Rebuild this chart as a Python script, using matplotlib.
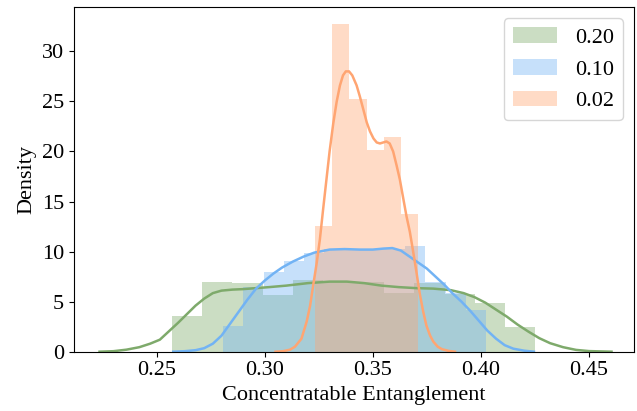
import numpy as np
import matplotlib
matplotlib.use('Agg')
import matplotlib.pyplot as plt

plt.rcParams['font.family'] = ['Liberation Serif', 'DejaVu Serif']
plt.rcParams['font.size'] = 16

labels = ['0.20', '0.10', '0.02']
colors = ['#7eaa6b', '#72b3f4', '#ffa572']

# histogram bins (range) and densities
green_range = (0.25703, 0.42522)
green_hist = [3.6, 7.0, 6.9, 5.7, 7.2, 7.0, 7.0, 5.9, 6.9, 5.8, 4.9, 2.5]
blue_range = (0.28074, 0.40245)
blue_hist = [2.6, 6.5, 8.0, 9.1, 9.9, 10.3, 10.3, 10.3, 10.3, 10.6, 7.0, 5.9, 4.2]
orange_range = (0.32342, 0.37076)
orange_hist = [12.6, 32.7, 25.2, 20.1, 21.4, 13.8]

# kde curves
green_kde_x = [0.2236, 0.2300, 0.2360, 0.2420, 0.2470, 0.2515, 0.2560, 0.2600, 0.2640, 0.2680,
               0.2720, 0.2760, 0.2800, 0.2850, 0.2900, 0.2960, 0.3020, 0.3100, 0.3200, 0.3300,
               0.3380, 0.3460, 0.3540, 0.3620, 0.3700, 0.3780, 0.3860, 0.3920, 0.3970, 0.4020,
               0.4070, 0.4120, 0.4170, 0.4220, 0.4270, 0.4320, 0.4380, 0.4440, 0.4500, 0.4604]
green_kde_y = [0.0, 0.05, 0.2, 0.45, 0.8, 1.2, 2.1, 2.9, 3.75, 4.6,
               5.3, 5.85, 6.1, 6.2, 6.25, 6.35, 6.45, 6.6, 6.85, 7.0,
               7.0, 6.85, 6.6, 6.45, 6.35, 6.3, 6.15, 5.85, 5.45, 4.9,
               4.2, 3.5, 2.7, 2.0, 1.35, 0.85, 0.45, 0.18, 0.06, 0.0]

blue_kde_x = [0.2577, 0.2630, 0.2680, 0.2720, 0.2760, 0.2800, 0.2840, 0.2880, 0.2920, 0.2960,
              0.3000, 0.3040, 0.3080, 0.3130, 0.3180, 0.3230, 0.3300, 0.3370, 0.3440, 0.3500,
              0.3550, 0.3590, 0.3630, 0.3670, 0.3710, 0.3750, 0.3790, 0.3830, 0.3870, 0.3910,
              0.3950, 0.3990, 0.4030, 0.4070, 0.4110, 0.4150, 0.4200, 0.4245]
blue_kde_y = [0.0, 0.05, 0.15, 0.35, 0.8, 1.6, 2.8, 4.0, 5.2, 6.3,
              7.1, 7.8, 8.4, 9.0, 9.5, 9.9, 10.2, 10.25, 10.2, 10.2,
              10.3, 10.35, 10.1, 9.5, 8.9, 8.3, 7.5, 6.7, 5.8, 5.0,
              4.1, 3.1, 2.1, 1.3, 0.65, 0.3, 0.1, 0.0]

orange_kde_x = [0.3050, 0.3085, 0.3117, 0.3140, 0.3170, 0.3194, 0.3210, 0.3224, 0.3240, 0.3255,
                0.3270, 0.3286, 0.3300, 0.3317, 0.3333, 0.3348, 0.3362, 0.3375, 0.3390, 0.3405,
                0.3425, 0.3440, 0.3456, 0.3472, 0.3487, 0.3503, 0.3518, 0.3533, 0.3548, 0.3563,
                0.3578, 0.3594, 0.3610, 0.3625, 0.3640, 0.3656, 0.3671, 0.3685, 0.3700, 0.3717,
                0.3733, 0.3748, 0.3765, 0.3780, 0.3800, 0.3820, 0.3850, 0.3880]
orange_kde_y = [0.0, 0.05, 0.2, 0.5, 1.3, 3.0, 4.6, 6.6, 8.8, 11.2,
                14.2, 17.3, 20.0, 22.8, 25.0, 26.6, 27.6, 28.0, 28.0, 27.6,
                26.6, 25.5, 24.2, 22.9, 22.0, 21.3, 20.9, 20.8, 20.9, 21.0,
                20.8, 20.0, 18.6, 17.2, 15.4, 13.5, 12.0, 10.2, 8.2, 5.8,
                4.0, 2.6, 1.6, 1.0, 0.5, 0.25, 0.08, 0.0]

hists = [(green_range, green_hist), (blue_range, blue_hist), (orange_range, orange_hist)]
kdes = [(green_kde_x, green_kde_y), (blue_kde_x, blue_kde_y), (orange_kde_x, orange_kde_y)]

fig = plt.figure(figsize=(6.37, 4.11), dpi=100)
ax = fig.add_axes([0.1162, 0.1443, 0.8791, 0.8379])

for (rng, h), (kx, ky), c, lab in zip(hists, kdes, colors, labels):
    edges = np.linspace(rng[0], rng[1], len(h) + 1)
    ax.bar(edges[:-1], h, width=np.diff(edges), align='edge', color=c,
           alpha=0.4, linewidth=0, label=lab)
    ax.plot(kx, ky, color=c, lw=1.8)

ax.set_xlim(0.2118, 0.4708)
ax.set_ylim(0, 34.4)
ax.set_xticks([0.25, 0.30, 0.35, 0.40, 0.45])
ax.set_yticks([0, 5, 10, 15, 20, 25, 30])
ax.set_xlabel('Concentratable Entanglement')
ax.set_ylabel('Density')
ax.legend(loc='upper right')

fig.savefig('out.png', dpi=100)
